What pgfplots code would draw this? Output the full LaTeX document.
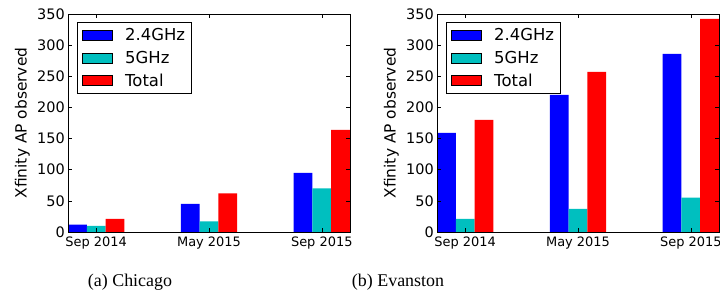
\documentclass[border=0pt]{standalone}
\usepackage{pgfplots}
\pgfplotsset{compat=1.18}
\usepackage{fontspec}
\setmainfont{DejaVu Sans}
\newfontfamily\capfont{Liberation Serif}
\definecolor{mcyan}{RGB}{0,191,191}
\definecolor{mblue}{RGB}{0,0,255}
\definecolor{mred}{RGB}{255,0,0}
\pgfplotsset{
  chartstyle/.style={
    scale only axis, width=282bp, height=218bp, anchor=south west,
    xmin=0, xmax=2.5, ymin=0, ymax=350,
    xtick={0.25,1.25,2.25},
    xticklabels={Sep 2014, May 2015, Sep 2015},
    ytick={0,50,...,350},
    tick pos=both, tick align=inside,
    major tick length=4bp,
    tick style={black, line width=0.6bp},
    axis line style={black, line width=0.8bp},
    axis on top,
    /pgf/number format/assume math mode=true,
    xticklabel style={font=\fontsize{13}{15}\selectfont, inner sep=0pt, yshift=-5bp, anchor=north},
    yticklabel style={font=\fontsize{14.5}{16}\selectfont, inner sep=0pt, xshift=-3bp, anchor=east},
    ylabel={Xfinity AP observed},
    every axis y label/.style={at={(axis description cs:-0.162,0.5)}, rotate=90, anchor=center, font=\fontsize{15.5}{17}\selectfont},
    legend image code/.code={\draw[##1] (0bp,-5bp) rectangle (30bp,5bp);},
    legend cell align=left,
    legend style={at={(axis description cs:0.032,0.963)}, anchor=north west,
      draw=black, line width=0.8bp, font=\fontsize{16.5}{18}\selectfont,
      inner xsep=5bp, inner ysep=5bp, row sep=7bp, column sep=11bp,
      nodes={inner sep=1bp}},
  },
  bb/.style={ybar, bar width=0.16667, bar shift=0pt, draw=none, fill=mblue},
  bc/.style={ybar, bar width=0.16667, bar shift=0pt, draw=none, fill=mcyan},
  br/.style={ybar, bar width=0.16667, bar shift=0pt, draw=none, fill=mred},
}
\begin{document}
\begin{tikzpicture}[x=1bp,y=1bp]
\useasboundingbox (0,0) rectangle (720,305);
\begin{axis}[chartstyle, at={(68bp,73bp)}]
\addplot[bb] coordinates {(0.08333,12) (1.08333,45) (2.08333,95)};
\addlegendentry{2.4GHz}
\addplot[bc] coordinates {(0.25,10) (1.25,17) (2.25,70)};
\addlegendentry{5GHz}
\addplot[br] coordinates {(0.41667,21) (1.41667,62) (2.41667,164)};
\addlegendentry{Total}
\end{axis}
\begin{axis}[chartstyle, at={(437bp,73bp)}]
\addplot[bb] coordinates {(0.08333,159) (1.08333,220) (2.08333,286)};
\addlegendentry{2.4GHz}
\addplot[bc] coordinates {(0.25,21) (1.25,37) (2.25,55)};
\addlegendentry{5GHz}
\addplot[br] coordinates {(0.41667,180) (1.41667,257) (2.41667,342)};
\addlegendentry{Total}
\end{axis}
\node[anchor=base, font=\capfont\fontsize{18}{20}\selectfont] at (130,19) {(a) Chicago};
\node[anchor=base, font=\capfont\fontsize{18}{20}\selectfont] at (398,19) {(b) Evanston};
\end{tikzpicture}
\end{document}
